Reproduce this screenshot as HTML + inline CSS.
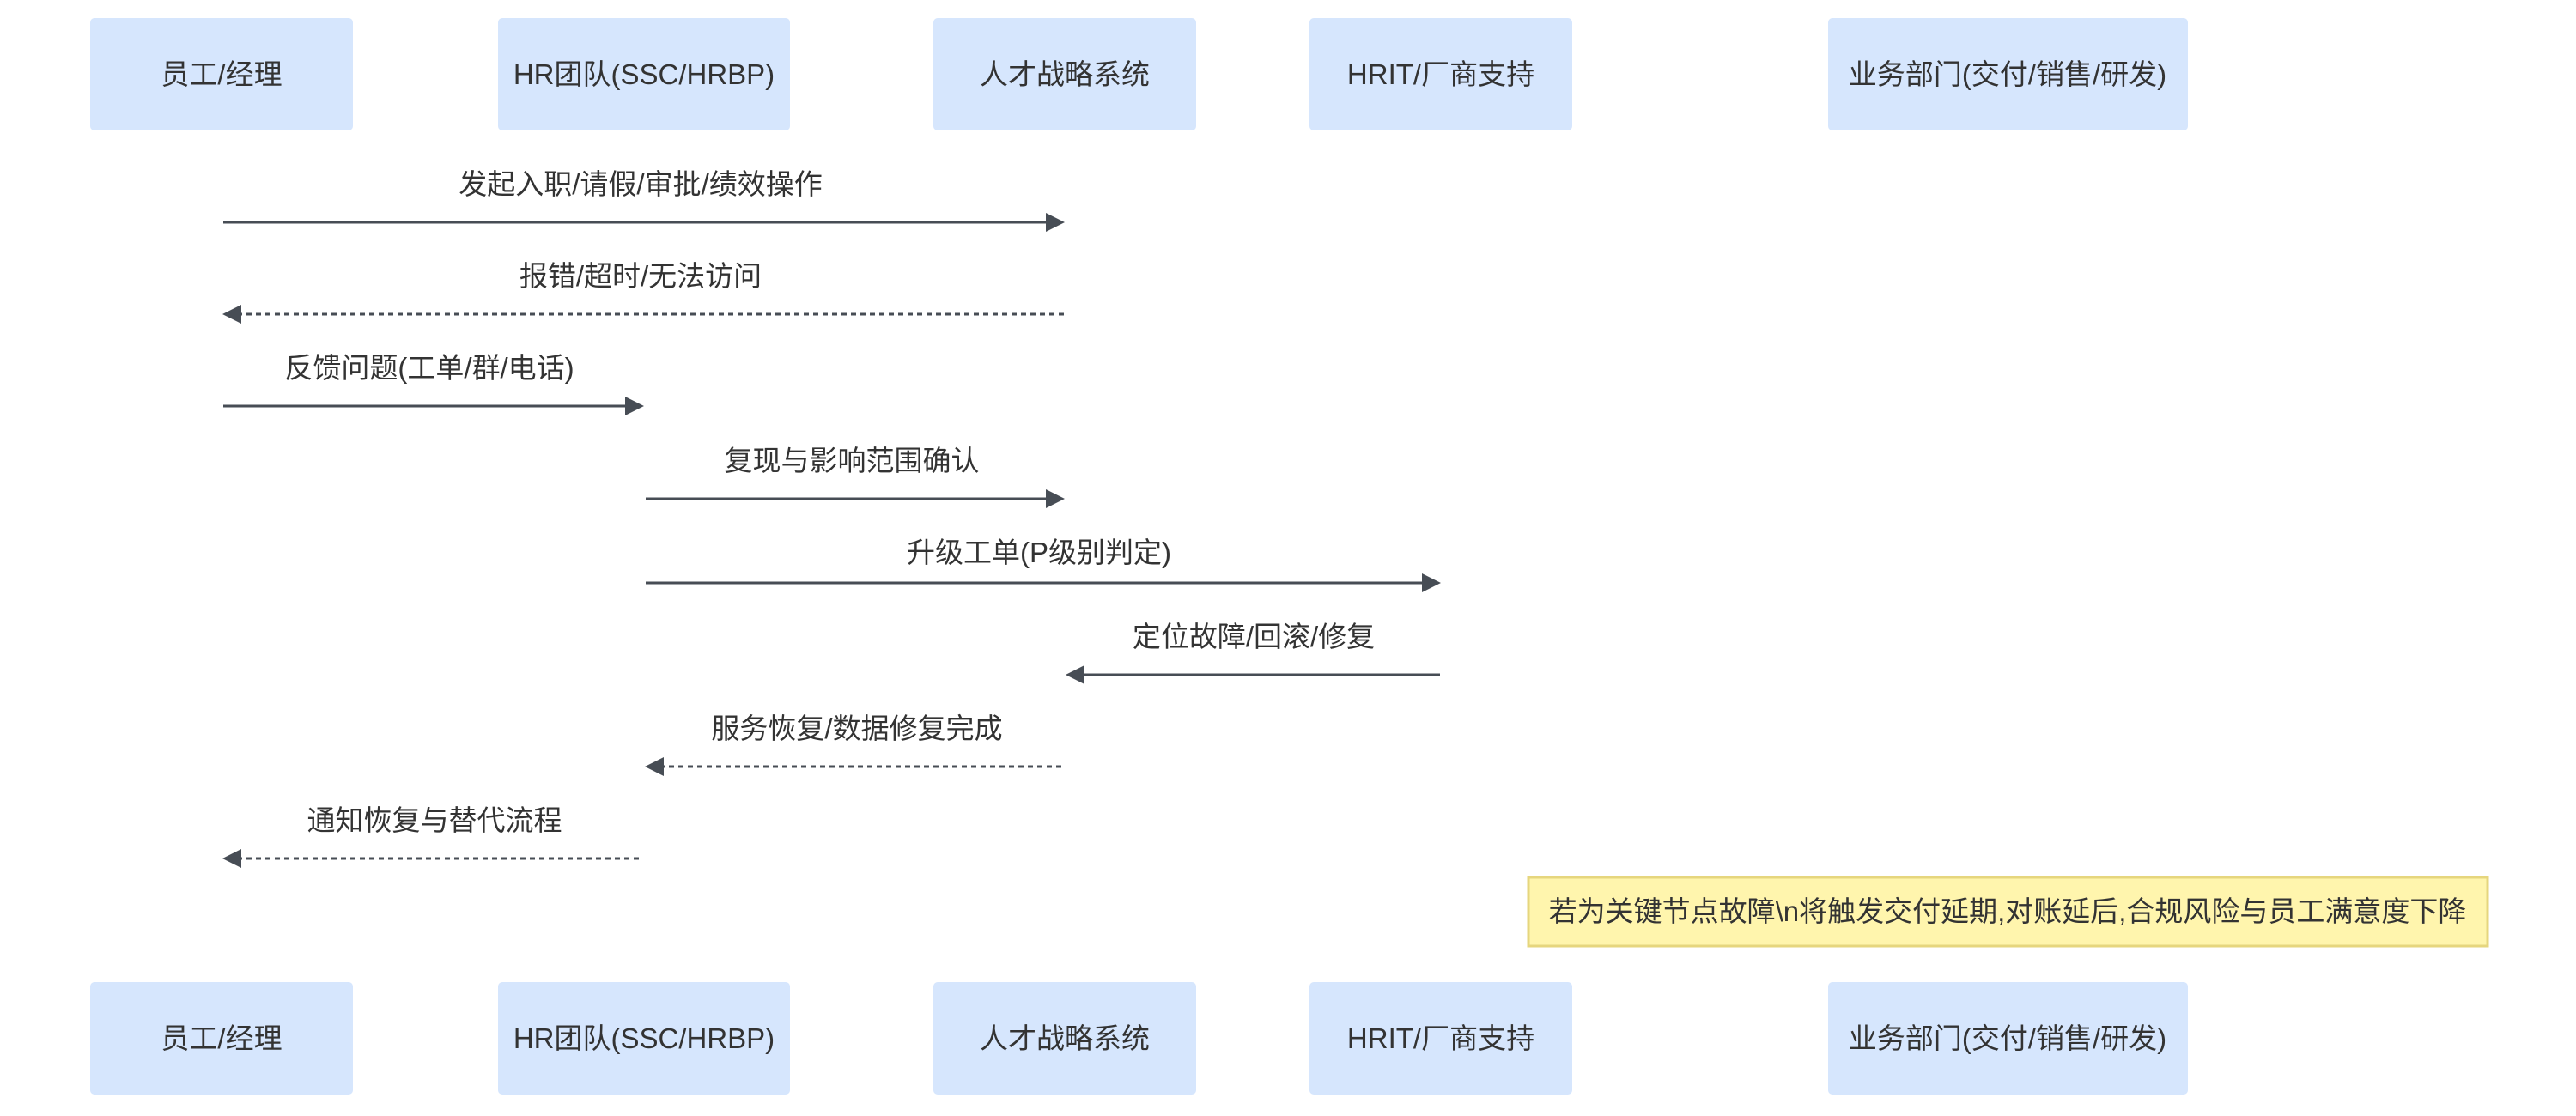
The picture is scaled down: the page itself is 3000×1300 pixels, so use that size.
<!DOCTYPE html>
<html><head><meta charset="utf-8"><style>
html,body{margin:0;padding:0;background:#fff;}
svg{display:block;}
text{font-family:"Liberation Sans","Noto Sans CJK SC",sans-serif;fill:#333;}
</style></head><body>
<svg width="3000" height="1300" viewBox="0 0 3000 1300" xmlns="http://www.w3.org/2000/svg">
<g fill="#d6e6fd">
<rect x="105" y="21" width="306" height="131" rx="5"/>
<rect x="580" y="21" width="340" height="131" rx="5"/>
<rect x="1087" y="21" width="306" height="131" rx="5"/>
<rect x="1525" y="21" width="306" height="131" rx="5"/>
<rect x="2129" y="21" width="419" height="131" rx="5"/>
<rect x="105" y="1144" width="306" height="131" rx="5"/>
<rect x="580" y="1144" width="340" height="131" rx="5"/>
<rect x="1087" y="1144" width="306" height="131" rx="5"/>
<rect x="1525" y="1144" width="306" height="131" rx="5"/>
<rect x="2129" y="1144" width="419" height="131" rx="5"/>
</g>
<g font-size="33" text-anchor="middle">
<text x="258" y="98">员工/经理</text>
<text x="750" y="98">HR团队(SSC/HRBP)</text>
<text x="1240" y="98">人才战略系统</text>
<text x="1678" y="98">HRIT/厂商支持</text>
<text x="2338" y="98">业务部门(交付/销售/研发)</text>
<text x="258" y="1221">员工/经理</text>
<text x="750" y="1221">HR团队(SSC/HRBP)</text>
<text x="1240" y="1221">人才战略系统</text>
<text x="1678" y="1221">HRIT/厂商支持</text>
<text x="2338" y="1221">业务部门(交付/销售/研发)</text>
</g>
<g stroke="#474d55" stroke-width="3" fill="none">
<line x1="260" y1="259" x2="1222" y2="259"/>
<line x1="276" y1="366" x2="1239" y2="366" stroke-dasharray="6,5"/>
<line x1="260" y1="473" x2="733" y2="473"/>
<line x1="752" y1="581" x2="1222" y2="581"/>
<line x1="752" y1="679" x2="1660" y2="679"/>
<line x1="1260" y1="786" x2="1677" y2="786"/>
<line x1="768" y1="893" x2="1239" y2="893" stroke-dasharray="6,5"/>
<line x1="276" y1="1000" x2="749" y2="1000" stroke-dasharray="6,5"/>
</g>
<g fill="#474d55">
<polygon points="1240,259 1218,248 1218,270"/>
<polygon points="259,366 281,355 281,377"/>
<polygon points="750,473 728,462 728,484"/>
<polygon points="1240,581 1218,570 1218,592"/>
<polygon points="1678,679 1656,668 1656,690"/>
<polygon points="1241,786 1263,775 1263,797"/>
<polygon points="751,893 773,882 773,904"/>
<polygon points="259,1000 281,989 281,1011"/>
</g>
<g font-size="33" text-anchor="middle">
<text x="746" y="226">发起入职/请假/审批/绩效操作</text>
<text x="746" y="333">报错/超时/无法访问</text>
<text x="500" y="440">反馈问题(工单/群/电话)</text>
<text x="992" y="548">复现与影响范围确认</text>
<text x="1210" y="655">升级工单(P级别判定)</text>
<text x="1460" y="753">定位故障/回滚/修复</text>
<text x="998" y="860">服务恢复/数据修复完成</text>
<text x="506" y="967">通知恢复与替代流程</text>
</g>
<rect x="1780" y="1022" width="1117" height="80" fill="#fff5ad" stroke="#e6d67e" stroke-width="3"/>
<text x="2338" y="1073" font-size="33" text-anchor="middle">若为关键节点故障\n将触发交付延期,对账延后,合规风险与员工满意度下降</text>
</svg>
</body></html>
